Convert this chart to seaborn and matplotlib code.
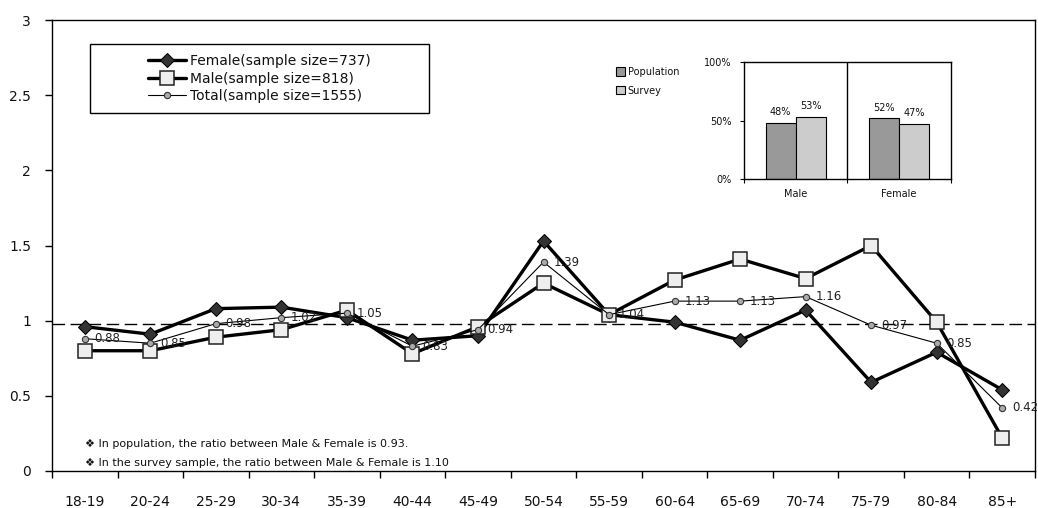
import pandas as pd
import matplotlib
matplotlib.use('Agg')
import matplotlib.pyplot as plt
import seaborn as sns
from matplotlib.patches import Patch, Rectangle

# data
age_groups = ['18-19', '20-24', '25-29', '30-34', '35-39', '40-44', '45-49', '50-54',
              '55-59', '60-64', '65-69', '70-74', '75-79', '80-84', '85+']
female_ratio = [0.96, 0.91, 1.08, 1.09, 1.02, 0.87, 0.90, 1.53, 1.04, 0.99, 0.87, 1.07, 0.59, 0.79, 0.54]
male_ratio = [0.80, 0.80, 0.89, 0.94, 1.07, 0.78, 0.96, 1.25, 1.04, 1.27, 1.41, 1.28, 1.50, 0.99, 0.22]
total_ratio = [0.88, 0.85, 0.98, 1.02, 1.05, 0.83, 0.94, 1.39, 1.04, 1.13, 1.13, 1.16, 0.97, 0.85, 0.42]
ref_level = 0.98

genders = ['Male', 'Female']
population_share = [48, 52]
survey_share = [53, 47]

notes = ['\u2756 In population, the ratio between Male & Female is 0.93.',
         '\u2756 In the survey sample, the ratio between Male & Female is 1.10']

sns.set_style('white')
plt.rcParams['font.family'] = ['DejaVu Sans']
plt.rcParams['text.color'] = '#111111'
plt.rcParams['xtick.color'] = 'black'
plt.rcParams['ytick.color'] = 'black'
plt.rcParams['xtick.labelcolor'] = '#111111'
plt.rcParams['ytick.labelcolor'] = '#111111'

W, H = 1038, 508
fig = plt.figure(figsize=(W / 100, H / 100), dpi=100)
ax = fig.add_axes([52 / W, 37 / H, 983 / W, 451 / H])

df = pd.DataFrame({'age': age_groups, 'female': female_ratio,
                   'male': male_ratio, 'total': total_ratio})

#1 main lines
sns.lineplot(data=df, x='age', y='female', sort=False, color='black', lw=2.4,
             marker='D', markersize=7, markerfacecolor='#333333', markeredgecolor='black',
             label='Female(sample size=737)', ax=ax)
sns.lineplot(data=df, x='age', y='male', sort=False, color='black', lw=2.4,
             marker='s', markersize=10, markerfacecolor='#eeeeee', markeredgecolor='#222222',
             markeredgewidth=1.1, label='Male(sample size=818)', ax=ax)
sns.lineplot(data=df, x='age', y='total', sort=False, color='black', lw=0.8,
             marker='o', markersize=4.5, markerfacecolor='#aaaaaa', markeredgecolor='#333333',
             markeredgewidth=0.8, label='Total(sample size=1555)', ax=ax)
ax.axhline(ref_level, color='black', lw=1, dashes=(9, 4), zorder=1)

for i, v in enumerate(total_ratio):
    ax.annotate(f'{v:.2f}', (i, v), xytext=(7, 0), textcoords='offset points',
                va='center', ha='left', fontsize=8.5, color='#222222', annotation_clip=False)

ax.set_xlim(-0.5, len(age_groups) - 0.5)
ax.set_ylim(0, 3)
ax.set_yticks([0, 0.5, 1, 1.5, 2, 2.5, 3])
ax.set_yticklabels(['0', '0.5', '1', '1.5', '2', '2.5', '3'])
ax.set_xticks([i - 0.5 for i in range(len(age_groups) + 1)])
ax.set_xticklabels([])
ax.set_xticks(range(len(age_groups)), minor=True)
ax.set_xticklabels(age_groups, minor=True)
ax.tick_params(axis='x', which='major', bottom=True, direction='out', length=5, width=1)
ax.tick_params(axis='x', which='minor', bottom=True, length=0, pad=17, labelsize=10)
ax.tick_params(axis='y', left=True, direction='out', length=5, width=1, pad=10, labelsize=10)
ax.set_xlabel('')
ax.set_ylabel('')
for s in ax.spines.values():
    s.set_color('black')
    s.set_linewidth(1)

# legend box like the original
handles, labels = ax.get_legend_handles_labels()
ax.legend_.remove()
fig.patches.append(Rectangle((90 / W, 1 - 113 / H), 339 / W, 69 / H, transform=fig.transFigure,
                             fill=True, facecolor='white', edgecolor='black', lw=1, zorder=5))
leg = fig.legend(handles, labels, loc='center', bbox_to_anchor=(259.5 / W, 1 - 78.5 / H),
                 frameon=False, fontsize=10, handlelength=2.7, handletextpad=0.3,
                 labelspacing=0.25, borderaxespad=0)
leg.set_zorder(6)

for k, t in enumerate(notes):
    fig.text(85 / W, 1 - (444 + 19 * k) / H, t, fontsize=8, va='center', ha='left')

#2 inset bar chart
iax = fig.add_axes([744 / W, 1 - 179.3 / H, 206.7 / W, 117.6 / H])
bars = pd.DataFrame({'gender': genders * 2,
                     'group': ['Population'] * 2 + ['Survey'] * 2,
                     'share': population_share + survey_share})
sns.barplot(data=bars, x='gender', y='share', hue='group', palette=['#999999', '#cccccc'],
            edgecolor='black', linewidth=0.8, width=0.58, legend=False, ax=iax)
for c in iax.containers:
    iax.bar_label(c, fmt='%d%%', padding=4, fontsize=7)
iax.axvline(0.5, color='black', lw=1)
iax.set_xlim(-0.5, 1.5)
iax.set_ylim(0, 100)
iax.set_yticks([0, 50, 100])
iax.set_yticklabels(['0%', '50%', '100%'])
iax.set_xticks([-0.5, 0.5, 1.5])
iax.set_xticklabels([])
iax.set_xticks([0, 1], minor=True)
iax.set_xticklabels(genders, minor=True)
iax.tick_params(axis='x', which='major', bottom=True, direction='out', length=3)
iax.tick_params(axis='x', which='minor', bottom=True, length=0, pad=7, labelsize=7)
iax.tick_params(axis='y', left=True, direction='out', length=3, labelsize=7, pad=6)
iax.set_xlabel('')
iax.set_ylabel('')
for s in iax.spines.values():
    s.set_color('black')
    s.set_linewidth(1)

fig.legend(handles=[Patch(facecolor='#999999', edgecolor='black', lw=0.8),
                    Patch(facecolor='#cccccc', edgecolor='black', lw=0.8)],
           labels=['Population', 'Survey'], loc='upper left',
           bbox_to_anchor=(612 / W, 1 - 63 / H), frameon=False, fontsize=7,
           handlelength=0.9, handleheight=0.9, handletextpad=0.3, labelspacing=0.9,
           borderaxespad=0)

fig.savefig('out.png', dpi=100)
